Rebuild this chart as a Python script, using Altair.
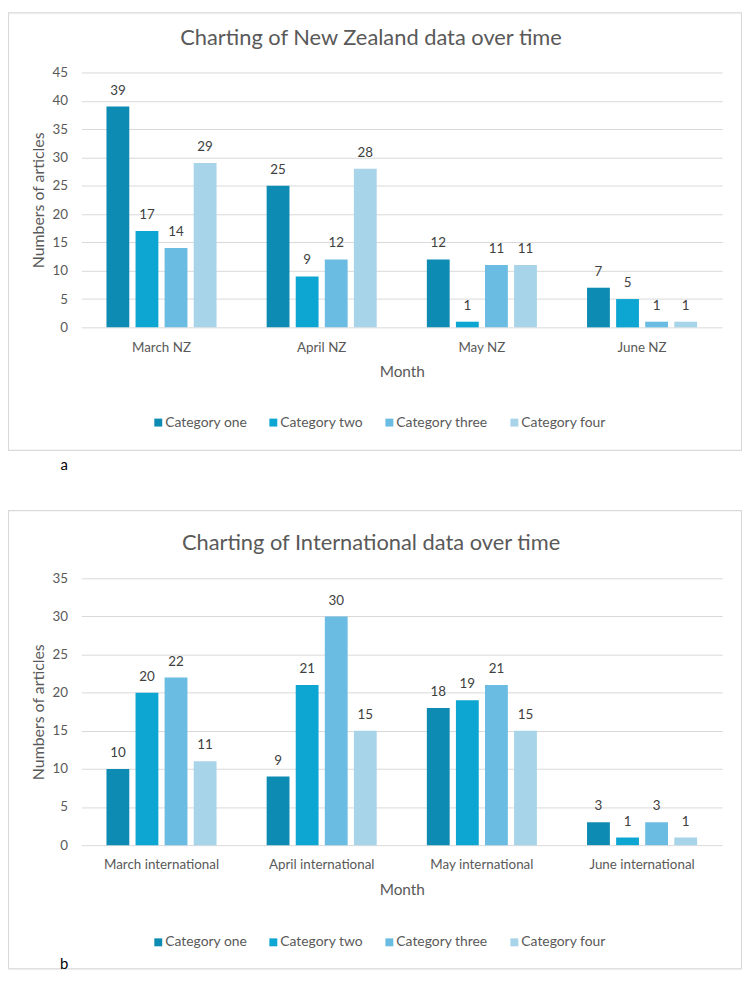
import altair as alt
import pandas as pd

categories = ["Category one", "Category two", "Category three", "Category four"]
months_nz = ["March NZ", "April NZ", "May NZ", "June NZ"]
months_int = ["March international", "April international", "May international", "June international"]

nz_one = [39, 25, 12, 7]
nz_two = [17, 9, 1, 5]
nz_three = [14, 12, 11, 1]
nz_four = [29, 28, 11, 1]

int_one = [10, 9, 18, 3]
int_two = [20, 21, 19, 1]
int_three = [22, 30, 21, 3]
int_four = [11, 15, 15, 1]

titles = ["Charting of New Zealand data over time", "Charting of International data over time"]
panel_letters = ["a", "b"]
y_title = "Numbers of articles"
x_title = "Month"
colors = ["#0E8BB3", "#0DA6D3", "#6ABCE2", "#A8D4EA"]

FONT = "Lato"
W, H = 646, 779
TXT = "#595959"


def frame(months, series):
    rows = []
    for cat, vals in zip(categories, series):
        for m, v in zip(months, vals):
            rows.append({"month": m, "category": cat, "value": v})
    return pd.DataFrame(rows)


df_nz = frame(months_nz, [nz_one, nz_two, nz_three, nz_four])
df_int = frame(months_int, [int_one, int_two, int_three, int_four])


def panel(df, months, ymax, yrange, axis_offset, legend_y):
    x = alt.X(
        "month:N", sort=months,
        scale=alt.Scale(paddingInner=0, paddingOuter=0),
        axis=alt.Axis(title=x_title, orient="bottom", offset=axis_offset, labelAngle=0,
                      ticks=False, tickSize=0, domain=False, labelPadding=13,
                      labelFontSize=13.5, labelColor=TXT, titleFontSize=15.5,
                      titleColor=TXT, titleFontWeight="normal", titlePadding=11),
    )
    xo = alt.XOffset("category:N", sort=categories,
                     scale=alt.Scale(paddingInner=0.215, paddingOuter=0.862))
    y = alt.Y(
        "value:Q",
        scale=alt.Scale(domain=[0, ymax], range=yrange, nice=False, zero=True),
        axis=alt.Axis(title=y_title, orient="left", values=list(range(0, ymax + 1, 5)),
                      grid=True, gridColor="#D9D9D9", gridWidth=1, domain=False,
                      ticks=False, tickSize=0, labelPadding=14, labelFontSize=13.5,
                      labelColor=TXT, titleFontSize=16, titleColor=TXT,
                      titleFontWeight="normal", titlePadding=6),
    )
    color = alt.Color(
        "category:N", sort=categories,
        scale=alt.Scale(domain=categories, range=colors),
        legend=alt.Legend(orient="none", legendX=70.5, legendY=legend_y,
                          direction="horizontal", title=None, symbolType="square",
                          symbolSize=64, symbolStrokeWidth=0, labelFontSize=14,
                          labelColor=TXT, columnPadding=19, labelOffset=0),
    )
    bars = alt.Chart(df).mark_bar().encode(x=x, xOffset=xo, y=y, color=color)
    labels = alt.Chart(df).mark_text(dy=-16, fontSize=13.5, color="#404040",
                                     baseline="middle", font=FONT).encode(
        x=x, xOffset=xo, y=y, text=alt.Text("value:Q"))
    return alt.layer(bars, labels)


panel_a = panel(df_nz, months_nz, 45, [257, 0], 257 - H, 346)
panel_b = panel(df_int, months_int, 35, [779, 510], 0, 870)

one = pd.DataFrame({"k": [0]})


def border(y0, y1):
    return alt.Chart(one).mark_rect(filled=False, stroke="#D9D9D9", strokeWidth=1.2).encode(
        x=alt.value(-73.5), x2=alt.value(665.5), y=alt.value(y0), y2=alt.value(y1))


def text(label, x, y, size, color, align="center"):
    return alt.Chart(one).mark_text(fontSize=size, color=color, align=align,
                                    baseline="middle", font=FONT).encode(
        x=alt.value(x), y=alt.value(y), text=alt.value(label))


layers = [
    border(-60, 381),
    border(441.7, 903.7),
    panel_a,
    panel_b,
    text(titles[0], 292, -35, 22, TXT),
    text(titles[1], 292, 474, 22, TXT),
    text(panel_letters[0], -17.4, 396, 15, "#000000"),
    text(panel_letters[1], -17.4, 899, 15, "#000000"),
]

chart = (
    alt.layer(*layers)
    .resolve_scale(x="independent", y="independent", xOffset="independent", color="independent")
    .resolve_axis(x="independent", y="independent")
    .resolve_legend(color="independent")
    .properties(width=W, height=H,
                padding={"left": 74, "top": 61, "right": 20, "bottom": 132},
                autosize=alt.AutoSizeParams(type="none"))
    .configure(font=FONT)
    .configure_view(stroke=None)
)

chart.save("out.html", embed_options={"renderer": "svg", "actions": False})
